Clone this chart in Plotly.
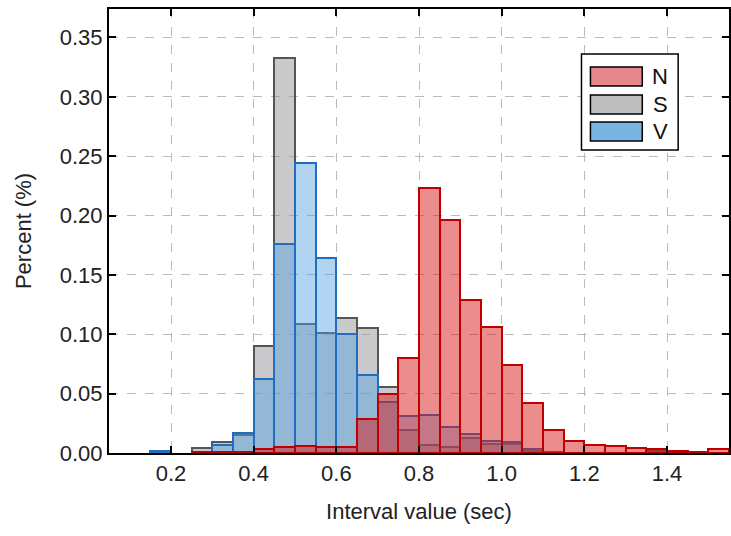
import plotly.graph_objects as go

bin_left = [0.15, 0.20, 0.25, 0.30, 0.35, 0.40, 0.45, 0.50, 0.55, 0.60, 0.65, 0.70, 0.75, 0.80,
            0.85, 0.90, 0.95, 1.00, 1.05, 1.10, 1.15, 1.20, 1.25, 1.30, 1.35, 1.40, 1.45, 1.50]
bin_width = 0.05

n_vals = [None, None, 0.001, 0.001, 0.001, 0.003, 0.005, 0.006, 0.005, 0.005, 0.029, 0.050, 0.080, 0.223,
          0.196, 0.129, 0.106, 0.074, 0.042, 0.019, 0.010, 0.007, 0.006, 0.004, 0.003, 0.002, 0.001, 0.003]
s_vals = [None, None, 0.004, 0.0095, 0.015, 0.090, 0.333, 0.109, 0.101, 0.114, 0.105, 0.056, 0.019, 0.007,
          0.005, 0.013, 0.008, 0.008, 0.002, 0.001, None, None, None, None, 0.002, None, None, None]
v_vals = [0.002, None, 0.001, 0.007, 0.017, 0.062, 0.176, 0.244, 0.164, 0.100, 0.066, 0.043, 0.031, 0.032,
          0.022, 0.016, 0.010, 0.009, 0.003, 0.001, None, None, None, None, None, None, None, None]

legend_names = ["N", "S", "V"]
x_ticks = [0.2, 0.4, 0.6, 0.8, 1.0, 1.2, 1.4]
y_ticks = [0.00, 0.05, 0.10, 0.15, 0.20, 0.25, 0.30, 0.35]

centers = [b + bin_width / 2 for b in bin_left]

face = {"N": "rgba(215,25,28,0.5)", "S": "rgba(150,150,155,0.5)", "V": "rgba(80,160,225,0.45)"}
edge = {"N": "#c00000", "S": "#555555", "V": "#1f6fc0"}
swatch = {"N": "#e8878b", "S": "#bebebe", "V": "#78b5e3"}
values = {"N": n_vals, "S": s_vals, "V": v_vals}

fig = go.Figure()
# draw order: S, V, N (N on top)
for name in ["S", "V", "N"]:
    fig.add_trace(go.Bar(
        x=centers, y=values[name], width=bin_width, name=name,
        marker=dict(color=face[name], line=dict(color=edge[name], width=2)),
        showlegend=False, hoverinfo="x+y",
    ))

# plot-area geometry (pixels) used to place the legend box
L, R, T, B = 109, 731, 9, 453
W, H = 731, 536


def px(xp):
    return (xp - L) / (R - L)


def py(yp):
    return (B - yp) / (B - T)


shapes = [dict(type="rect", xref="paper", yref="paper",
               x0=px(583), x1=px(680), y0=py(150), y1=py(54),
               line=dict(color="black", width=1.5), fillcolor="white", layer="above")]
annotations = []
sw_top = [67, 95, 122]
for i, name in enumerate(legend_names):
    t = sw_top[i]
    shapes.append(dict(type="rect", xref="paper", yref="paper",
                       x0=px(592), x1=px(644), y0=py(t + 19), y1=py(t),
                       line=dict(color="black", width=1.5), fillcolor=swatch[name], layer="above"))
    annotations.append(dict(xref="paper", yref="paper", x=px(662), y=py(t + 9.5),
                            text=name, showarrow=False, xanchor="center", yanchor="middle",
                            font=dict(size=22, color="#111111")))

font_family = "Liberation Sans, Arial, sans-serif"
fig.update_layout(
    width=W, height=H,
    barmode="overlay", bargap=0,
    plot_bgcolor="white", paper_bgcolor="white",
    margin=dict(l=L, r=W - R, t=T, b=H - B),
    font=dict(family=font_family, size=22, color="#222222"),
    showlegend=False,
    shapes=shapes, annotations=annotations,
    xaxis=dict(range=[0.05, 1.55], tickvals=x_ticks, ticktext=[f"{t:.1f}" for t in x_ticks],
               showline=True, linecolor="black", linewidth=2, mirror="ticks",
               ticks="inside", ticklen=7, tickwidth=1.5, tickcolor="black",
               showgrid=True, gridcolor="#bbbbbb", griddash="dash", gridwidth=1,
               zeroline=False,
               title=dict(text="Interval value (sec)", font=dict(size=22), standoff=18)),
    yaxis=dict(range=[0, 0.374], tickvals=y_ticks, ticktext=[f"{t:.2f}" for t in y_ticks],
               showline=True, linecolor="black", linewidth=2, mirror="ticks",
               ticks="inside", ticklen=7, tickwidth=1.5, tickcolor="black",
               showgrid=True, gridcolor="#bbbbbb", griddash="dash", gridwidth=1,
               zeroline=False,
               title=dict(text="Percent (%)", font=dict(size=22), standoff=22)),
)

fig.write_html("out.html")
